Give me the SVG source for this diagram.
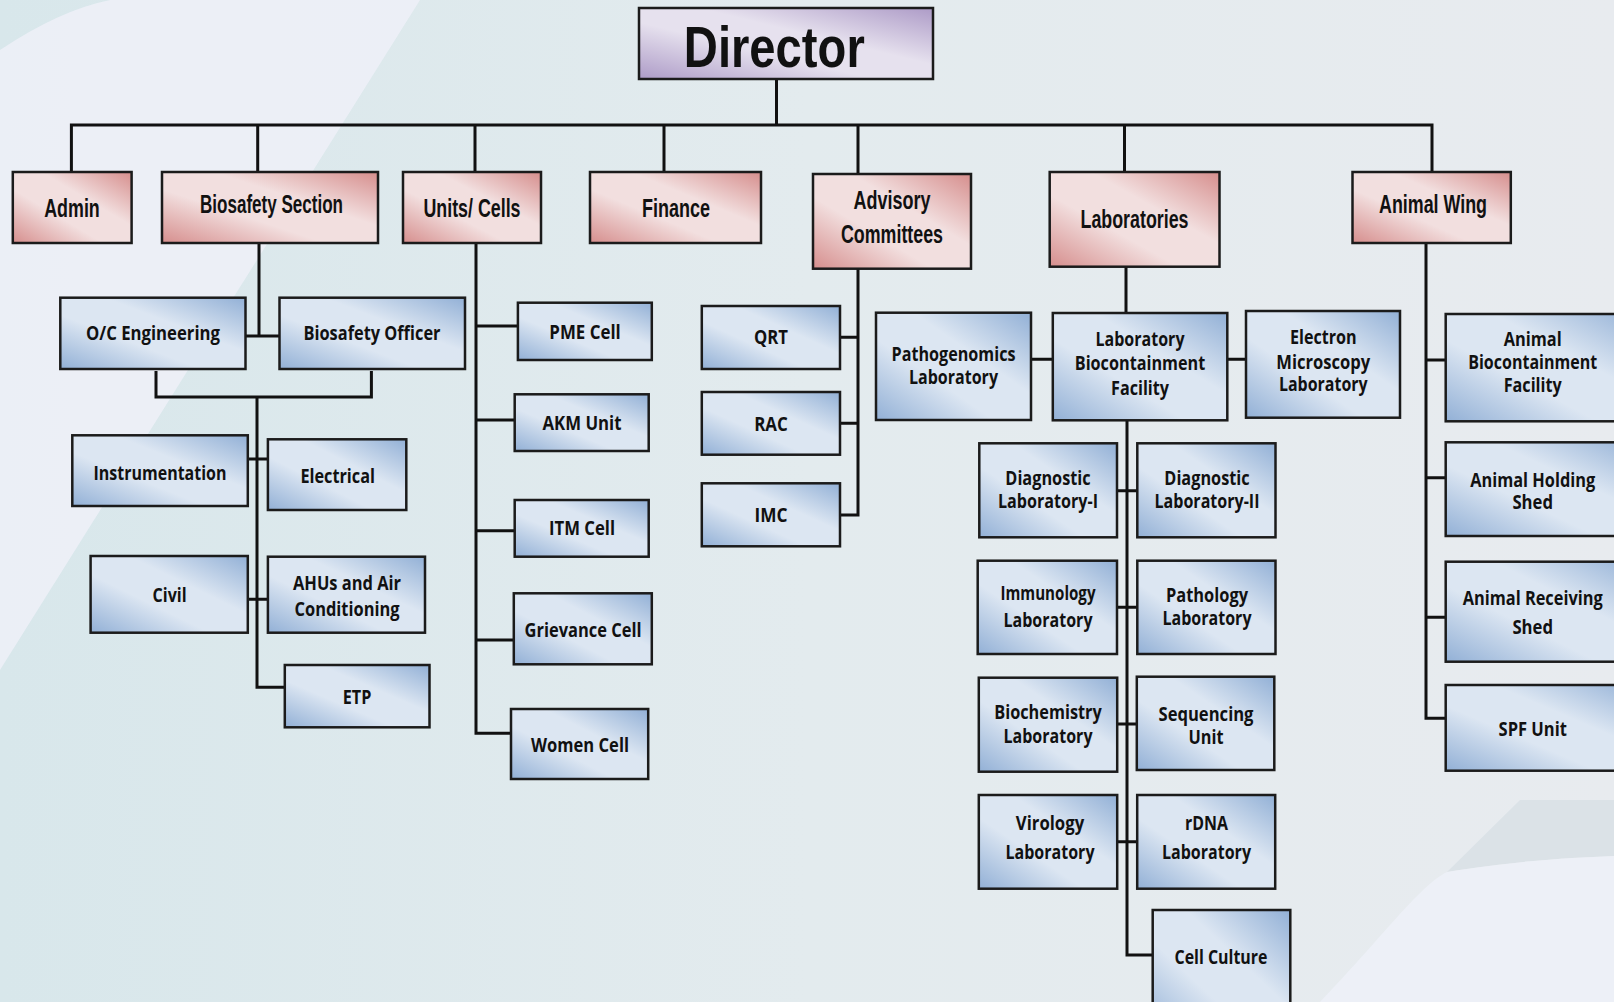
<svg xmlns="http://www.w3.org/2000/svg" width="1614" height="1002" viewBox="0 0 1614 1002">
<defs>
<linearGradient id="bgTeal" x1="0" y1="0" x2="1" y2="0">
<stop offset="0" stop-color="#d8e7eb"/><stop offset="0.5" stop-color="#e3ebee"/><stop offset="1" stop-color="#e8ebef"/>
</linearGradient>
<linearGradient id="gBlue" x1="1" y1="0" x2="0" y2="1">
<stop offset="0" stop-color="#92b0d6"/><stop offset="0.38" stop-color="#dce6f2"/><stop offset="0.62" stop-color="#dce6f2"/><stop offset="1" stop-color="#92b0d6"/>
</linearGradient>
<linearGradient id="gPink" x1="1" y1="0" x2="0" y2="1">
<stop offset="0" stop-color="#d68e8d"/><stop offset="0.38" stop-color="#f2dfdf"/><stop offset="0.62" stop-color="#f2dfdf"/><stop offset="1" stop-color="#d68e8d"/>
</linearGradient>
<linearGradient id="gPurple" x1="1" y1="0" x2="0" y2="1">
<stop offset="0" stop-color="#ad9bc7"/><stop offset="0.4" stop-color="#e6e1ee"/><stop offset="0.6" stop-color="#e6e1ee"/><stop offset="1" stop-color="#ad9bc7"/>
</linearGradient>
<style>
.bb{fill:url(#gBlue);stroke:#1b1b1b;stroke-width:2.5}
.bp{fill:url(#gPink);stroke:#1b1b1b;stroke-width:2.5}
.tb{font-family:"Open Sans","Liberation Sans",sans-serif;font-weight:700;font-size:20px;text-anchor:middle;fill:#111}
.tp{font-family:"Liberation Sans",Arial,sans-serif;font-weight:700;font-size:25px;text-anchor:middle;fill:#111}
.conn{fill:none;stroke:#111;stroke-width:3}
</style>
</defs>
<g id="background">
<rect x="0" y="0" width="1614" height="1002" fill="url(#bgTeal)"/>
<path d="M0 50 Q60 10 110 0 H420 L0 670 Z" fill="#edf0f7" opacity="0.9"/>
<path d="M1447 872 L1520 800 H1614 V856 C1570 858 1520 860 1447 872 Z" fill="#dbe2e7"/>
<path d="M1320 1002 C1380 940 1420 885 1447 872 C1520 860 1570 858 1614 856 V1002 Z" fill="#edf0f7"/>
</g>
<g id="connectors" class="conn">
<path d="M776.5 79 V125"/>
<path d="M71.4 172 V125 H1432 V172"/>
<path d="M257.7 125 V172 M475 125 V172 M664 125 V172 M858 125 V174 M1124.5 125 V172"/>
<path d="M259 243 V336 M245.5 336 H279.5"/>
<path d="M156 371 V397 H371.4 V371"/>
<path d="M257 397 V687.3 H284.8 M247.8 459 H267.9 M247.8 599.3 H267.9"/>
<path d="M476 243 V733.3 H511 M476 326 H517.9 M476 420 H514.7 M476 530.7 H514.7 M476 640 H513.8"/>
<path d="M858 268.7 V515 H840 M840 337.3 H858 M840 423.3 H858"/>
<path d="M1126 266.7 V313 M1031 359.3 H1052.8 M1227.3 359.3 H1246"/>
<path d="M1127 420.3 V955 H1152.7 M1117 490.7 H1137.3 M1117 607.3 H1137.3 M1117 724 H1137 M1117 841.7 H1137.2"/>
<path d="M1426 243 V718.3 H1445.7 M1426 360 H1445.7 M1426 477.7 H1445.7 M1426 617.3 H1445.7"/>
</g>
<g id="director">
<rect x="639" y="8" width="294" height="71" fill="url(#gPurple)" stroke="#1b1b1b" stroke-width="2.5"/>
<text x="774.3" y="66.7" font-family="'Liberation Sans',Arial,sans-serif" font-weight="700" font-size="58" text-anchor="middle" fill="#111" textLength="181" lengthAdjust="spacingAndGlyphs">Director</text>
</g>
<g id="admin"><rect class="bp" x="12.8" y="172" width="118.8" height="71"/><text class="tp" x="72" y="217" textLength="55.6" lengthAdjust="spacingAndGlyphs">Admin</text></g>
<g id="biosafety-section"><rect class="bp" x="162" y="172" width="216" height="71"/><text class="tp" x="271.5" y="213.3" textLength="143" lengthAdjust="spacingAndGlyphs">Biosafety Section</text></g>
<g id="units-cells"><rect class="bp" x="403" y="172" width="138" height="71"/><text class="tp" x="472" y="216.7" textLength="97" lengthAdjust="spacingAndGlyphs">Units/ Cells</text></g>
<g id="finance"><rect class="bp" x="590" y="172" width="171" height="71"/><text class="tp" x="676" y="216.7" textLength="68" lengthAdjust="spacingAndGlyphs">Finance</text></g>
<g id="advisory-committees"><rect class="bp" x="813" y="174" width="158" height="94.7"/><text class="tp" x="892" y="209.3" font-size="24" textLength="77" lengthAdjust="spacingAndGlyphs">Advisory</text><text class="tp" x="892" y="243.3" font-size="24" textLength="102" lengthAdjust="spacingAndGlyphs">Committees</text></g>
<g id="laboratories"><rect class="bp" x="1049.7" y="172" width="169.8" height="94.7"/><text class="tp" x="1134.5" y="227.7" textLength="108" lengthAdjust="spacingAndGlyphs">Laboratories</text></g>
<g id="animal-wing"><rect class="bp" x="1352.5" y="172" width="158.3" height="71"/><text class="tp" x="1433" y="213.3" textLength="108" lengthAdjust="spacingAndGlyphs">Animal Wing</text></g>

<g id="oc-engineering"><rect class="bb" x="60.3" y="297.7" width="185.2" height="71.3"/><text class="tb" x="153" y="340" textLength="134" lengthAdjust="spacingAndGlyphs">O/C Engineering</text></g>
<g id="biosafety-officer"><rect class="bb" x="279.5" y="297.7" width="185.5" height="71.3"/><text class="tb" x="372" y="340" textLength="137" lengthAdjust="spacingAndGlyphs">Biosafety Officer</text></g>
<g id="instrumentation"><rect class="bb" x="72.3" y="435.3" width="175.5" height="70.7"/><text class="tb" x="160" y="479.7" textLength="133" lengthAdjust="spacingAndGlyphs">Instrumentation</text></g>
<g id="electrical"><rect class="bb" x="267.9" y="439.3" width="138.4" height="70.7"/><text class="tb" x="337.7" y="483" textLength="74.6" lengthAdjust="spacingAndGlyphs">Electrical</text></g>
<g id="civil"><rect class="bb" x="90.6" y="556" width="157.2" height="76.7"/><text class="tb" x="169.6" y="602" textLength="34" lengthAdjust="spacingAndGlyphs">Civil</text></g>
<g id="ahus"><rect class="bb" x="267.9" y="556.7" width="157.1" height="76"/><text class="tb" x="347" y="590" textLength="108" lengthAdjust="spacingAndGlyphs">AHUs and Air</text><text class="tb" x="347" y="616" textLength="105" lengthAdjust="spacingAndGlyphs">Conditioning</text></g>
<g id="etp"><rect class="bb" x="284.8" y="665" width="144.7" height="62.3"/><text class="tb" x="357" y="703.7" textLength="28.6" lengthAdjust="spacingAndGlyphs">ETP</text></g>

<g id="pme-cell"><rect class="bb" x="517.9" y="302.7" width="133.9" height="57.3"/><text class="tb" x="585" y="339.3" textLength="71.4" lengthAdjust="spacingAndGlyphs">PME Cell</text></g>
<g id="akm-unit"><rect class="bb" x="514.7" y="394.3" width="134" height="56.7"/><text class="tb" x="582" y="429.7" textLength="79" lengthAdjust="spacingAndGlyphs">AKM Unit</text></g>
<g id="itm-cell"><rect class="bb" x="514.7" y="500" width="134" height="56.7"/><text class="tb" x="582" y="535.3" textLength="66" lengthAdjust="spacingAndGlyphs">ITM Cell</text></g>
<g id="grievance-cell"><rect class="bb" x="513.8" y="593.3" width="138" height="71"/><text class="tb" x="583" y="637" textLength="117" lengthAdjust="spacingAndGlyphs">Grievance Cell</text></g>
<g id="women-cell"><rect class="bb" x="511" y="709" width="137.2" height="70"/><text class="tb" x="580" y="752" textLength="98" lengthAdjust="spacingAndGlyphs">Women Cell</text></g>

<g id="qrt"><rect class="bb" x="701.8" y="306" width="138.2" height="63"/><text class="tb" x="771" y="344.3" textLength="34" lengthAdjust="spacingAndGlyphs">QRT</text></g>
<g id="rac"><rect class="bb" x="701.8" y="392" width="138.2" height="62.7"/><text class="tb" x="771" y="431" textLength="33.6" lengthAdjust="spacingAndGlyphs">RAC</text></g>
<g id="imc"><rect class="bb" x="701.8" y="483.3" width="138.2" height="63"/><text class="tb" x="771" y="522" textLength="33" lengthAdjust="spacingAndGlyphs">IMC</text></g>

<g id="pathogenomics"><rect class="bb" x="876" y="312.7" width="155" height="107.3"/><text class="tb" x="953.5" y="361" textLength="124" lengthAdjust="spacingAndGlyphs">Pathogenomics</text><text class="tb" x="953.5" y="384.3" textLength="89" lengthAdjust="spacingAndGlyphs">Laboratory</text></g>
<g id="lab-biocontainment"><rect class="bb" x="1052.8" y="313" width="174.5" height="107.3"/><text class="tb" x="1140" y="346.3" textLength="89" lengthAdjust="spacingAndGlyphs">Laboratory</text><text class="tb" x="1140" y="370.3" textLength="130.5" lengthAdjust="spacingAndGlyphs">Biocontainment</text><text class="tb" x="1140" y="394.7" textLength="58" lengthAdjust="spacingAndGlyphs">Facility</text></g>
<g id="electron-microscopy"><rect class="bb" x="1246" y="311" width="154" height="106.7"/><text class="tb" x="1323.3" y="344.3" textLength="66.7" lengthAdjust="spacingAndGlyphs">Electron</text><text class="tb" x="1323.3" y="368.7" textLength="94" lengthAdjust="spacingAndGlyphs">Microscopy</text><text class="tb" x="1323.3" y="391" textLength="88.7" lengthAdjust="spacingAndGlyphs">Laboratory</text></g>
<g id="diagnostic-1"><rect class="bb" x="979.3" y="443.3" width="137.7" height="94"/><text class="tb" x="1048" y="485.3" textLength="85.3" lengthAdjust="spacingAndGlyphs">Diagnostic</text><text class="tb" x="1048" y="507.7" textLength="100" lengthAdjust="spacingAndGlyphs">Laboratory-I</text></g>
<g id="diagnostic-2"><rect class="bb" x="1137.3" y="443.3" width="138.2" height="94"/><text class="tb" x="1207" y="485.3" textLength="85.3" lengthAdjust="spacingAndGlyphs">Diagnostic</text><text class="tb" x="1207" y="507.7" textLength="105" lengthAdjust="spacingAndGlyphs">Laboratory-II</text></g>
<g id="immunology"><rect class="bb" x="977.7" y="560.7" width="139.3" height="93.3"/><text class="tb" x="1048" y="600.3" textLength="95" lengthAdjust="spacingAndGlyphs">Immunology</text><text class="tb" x="1048" y="627" textLength="89" lengthAdjust="spacingAndGlyphs">Laboratory</text></g>
<g id="pathology"><rect class="bb" x="1137.3" y="560.7" width="138.2" height="93.3"/><text class="tb" x="1207" y="602" textLength="82" lengthAdjust="spacingAndGlyphs">Pathology</text><text class="tb" x="1207" y="625.3" textLength="89" lengthAdjust="spacingAndGlyphs">Laboratory</text></g>
<g id="biochemistry"><rect class="bb" x="978.8" y="677.7" width="138.4" height="94"/><text class="tb" x="1048" y="719.3" textLength="107.5" lengthAdjust="spacingAndGlyphs">Biochemistry</text><text class="tb" x="1048" y="742.7" textLength="89" lengthAdjust="spacingAndGlyphs">Laboratory</text></g>
<g id="sequencing"><rect class="bb" x="1136.8" y="676.7" width="137.5" height="93.3"/><text class="tb" x="1206" y="721.3" textLength="95" lengthAdjust="spacingAndGlyphs">Sequencing</text><text class="tb" x="1206" y="744.3" textLength="35" lengthAdjust="spacingAndGlyphs">Unit</text></g>
<g id="virology"><rect class="bb" x="978.8" y="795" width="138.4" height="93.7"/><text class="tb" x="1050" y="830.3" textLength="68.3" lengthAdjust="spacingAndGlyphs">Virology</text><text class="tb" x="1050" y="858.7" textLength="89" lengthAdjust="spacingAndGlyphs">Laboratory</text></g>
<g id="rdna"><rect class="bb" x="1137.2" y="795" width="138" height="93.7"/><text class="tb" x="1206.5" y="830" textLength="43" lengthAdjust="spacingAndGlyphs">rDNA</text><text class="tb" x="1206.5" y="858.7" textLength="89" lengthAdjust="spacingAndGlyphs">Laboratory</text></g>
<g id="cell-culture"><rect class="bb" x="1152.7" y="910" width="137.6" height="130"/><text class="tb" x="1221" y="964.3" textLength="93" lengthAdjust="spacingAndGlyphs">Cell Culture</text></g>

<g id="animal-biocontainment"><rect class="bb" x="1445.7" y="314" width="200" height="107.3"/><text class="tb" x="1532.7" y="346.3" textLength="58" lengthAdjust="spacingAndGlyphs">Animal</text><text class="tb" x="1532.7" y="368.7" textLength="129" lengthAdjust="spacingAndGlyphs">Biocontainment</text><text class="tb" x="1532.7" y="392" textLength="58" lengthAdjust="spacingAndGlyphs">Facility</text></g>
<g id="animal-holding"><rect class="bb" x="1445.7" y="442.3" width="200" height="93.7"/><text class="tb" x="1532.7" y="487" textLength="125" lengthAdjust="spacingAndGlyphs">Animal Holding</text><text class="tb" x="1532.7" y="508.7" textLength="40.6" lengthAdjust="spacingAndGlyphs">Shed</text></g>
<g id="animal-receiving"><rect class="bb" x="1445.7" y="561.7" width="200" height="100"/><text class="tb" x="1532.7" y="605.3" textLength="140" lengthAdjust="spacingAndGlyphs">Animal Receiving</text><text class="tb" x="1532.7" y="633.7" textLength="40.6" lengthAdjust="spacingAndGlyphs">Shed</text></g>
<g id="spf-unit"><rect class="bb" x="1445.7" y="685" width="200" height="85.7"/><text class="tb" x="1532.7" y="736.3" textLength="68.3" lengthAdjust="spacingAndGlyphs">SPF Unit</text></g>
</svg>
